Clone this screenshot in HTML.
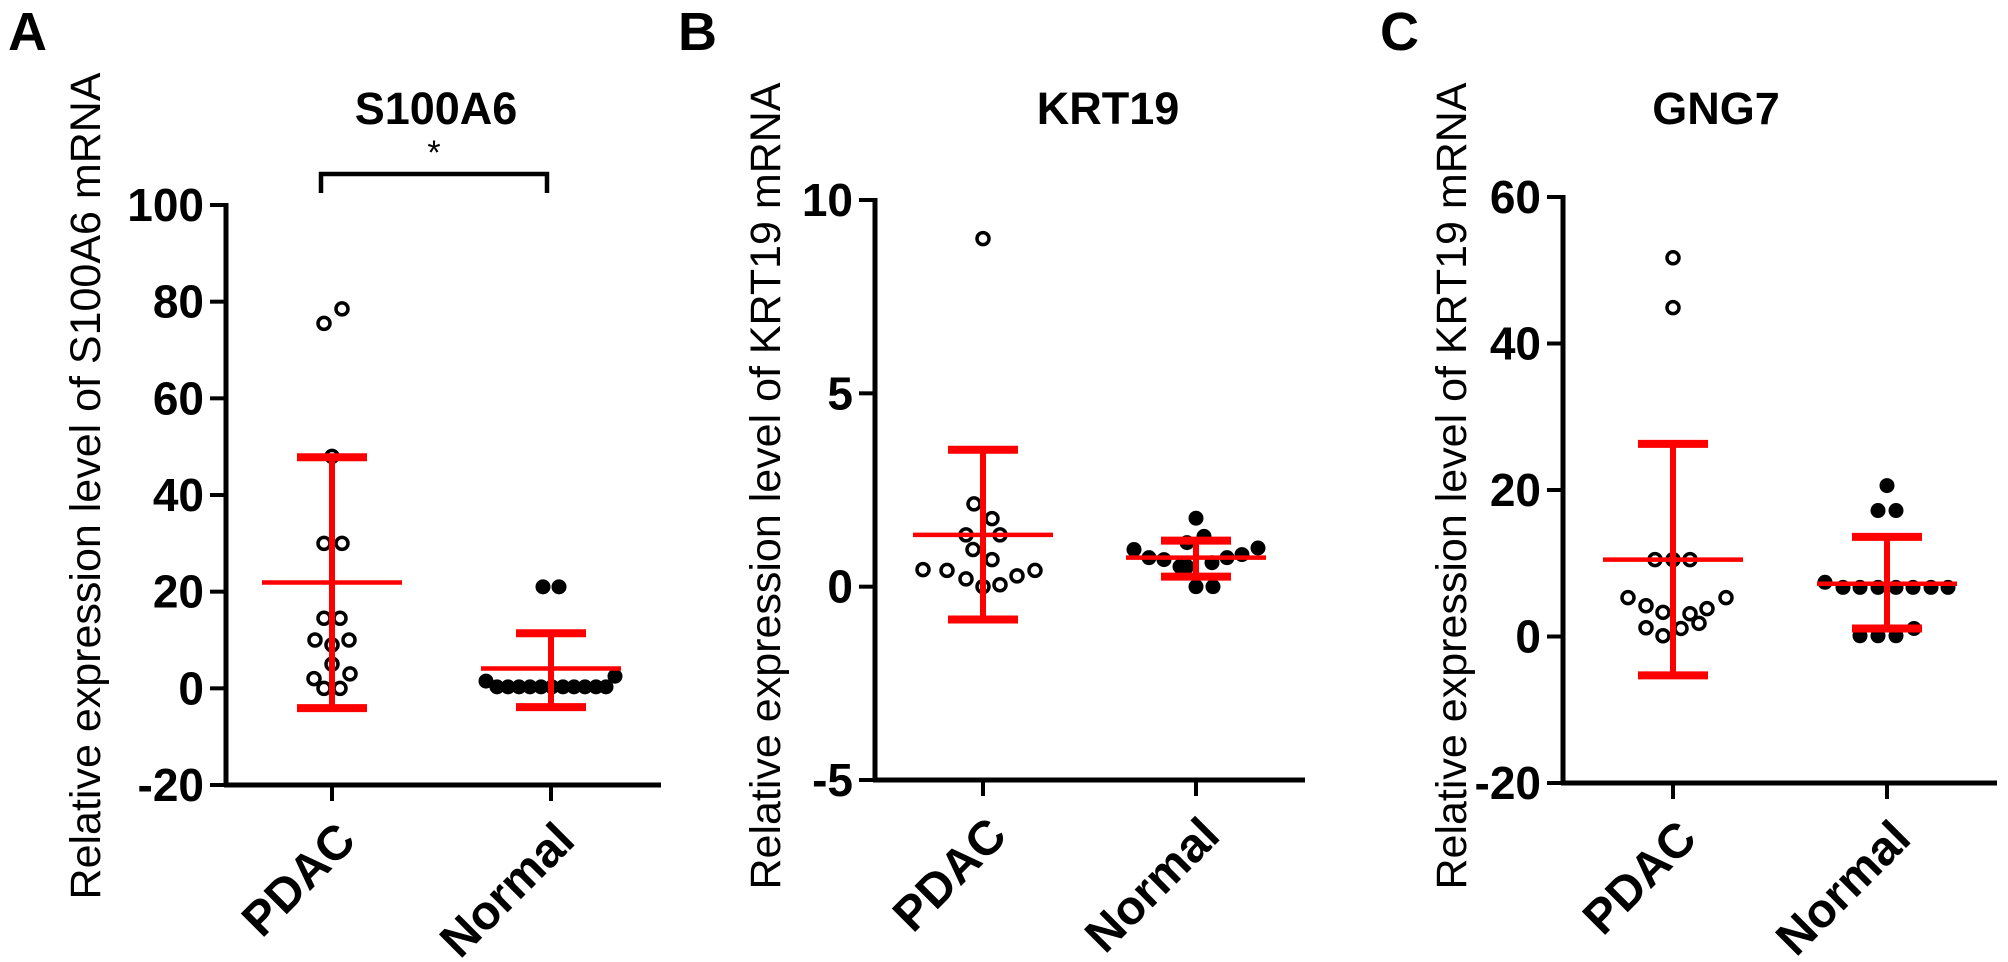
<!DOCTYPE html>
<html><head><meta charset="utf-8"><style>
html,body{margin:0;padding:0;background:#fff;}
svg{display:block;font-family:"Liberation Sans",Arial,sans-serif;}
</style></head><body>
<svg id="fig" width="2008" height="962" viewBox="0 0 2008 962" xmlns="http://www.w3.org/2000/svg"></svg>
<script>
const categories = ["PDAC", "Normal"];
// Panel A: S100A6
const aPdac = [78.5, 75.5, 48, 30, 30, 14.5, 14.5, 10, 10, 9, 5, 2, 3, 0, 0];
const aNormal = [21, 21, 1.5, 0.3, 0.3, 0.3, 0.3, 0.3, 0.3, 0.3, 0.3, 0.3, 0.3, 0.3, 2.5];
const aMean = [21.9, 4.1];
const aUpper = [47.8, 11.4];
const aLower = [-4.1, -3.9];
const aTicks = [-20, 0, 20, 40, 60, 80, 100];
// Panel B: KRT19
const bPdac = [9.0, 2.14, 1.76, 1.34, 1.34, 0.96, 0.7, 0.44, 0.42, 0.2, 0.0, 0.05, 0.28, 0.42];
const bNormal = [1.77, 1.3, 1.14, 0.96, 0.75, 0.7, 0.52, 0.52, 0.62, 0.75, 0.83, 1.0, 0.0, 0.0];
const bMean = [1.34, 0.75];
const bUpper = [3.54, 1.19];
const bLower = [-0.85, 0.26];
const bTicks = [-5, 0, 5, 10];
// Panel C: GNG7
const cPdac = [51.7, 44.9, 10.5, 10.5, 10.5, 5.3, 4.2, 3.3, 3.1, 3.8, 5.3, 1.2, 0.1, 1.1, 1.8];
const cNormal = [20.6, 17.2, 17.2, 7.4, 6.7, 6.7, 6.7, 6.7, 6.7, 6.7, 6.7, 0.1, 0.1, 0.1, 1.1];
const cMean = [10.5, 7.2];
const cUpper = [26.3, 13.6];
const cLower = [-5.3, 1.1];
const cTicks = [-20, 0, 20, 40, 60];

// horizontal jitter (layout only, px)
const jA0 = [10, -8, 0, -8, 10, -8, 8, -17, 17, 0, 0, -18, 18, -8, 8];
const jA1 = [-8, 8, -65, -54, -43, -32, -21, -10, 1, 12, 23, 34, 45, 55, 64];
const jB0 = [0, -9, 9, -17, 17, -10, 9, -60, -36, -17, 0, 17, 34, 52];
const jB1 = [0, 8, -9, -62, -47, -32, -16, -9, 16, 31, 46, 62, 0, 17];
const jC0 = [0, 0, -18, 0, 17, -45, -27, -10, 17, 34, 53, -27, -10, 8, 26];
const jC1 = [0, -9, 9, -62, -44, -27, -9, 9, 26, 44, 61, -27, -9, 9, 27];

const NS = "http://www.w3.org/2000/svg";
const svg = document.getElementById("fig");
function mk(tag, attrs, parent) {
  const e = document.createElementNS(NS, tag);
  for (const k in attrs) e.setAttribute(k, attrs[k]);
  (parent || svg).appendChild(e);
  return e;
}

function panel(p) {
  const g = mk("g", {});
  
  
  const y = v => p.y0 - (v - p.vmin) * (p.y0 - p.y1) / (p.vmax - p.vmin);
  const xs = [p.xPdac, p.xNormal];
  const ya = mk("line", {x1: p.ax, x2: p.ax, y1: y(p.vmax) - 2, y2: p.y0 + 2, stroke: "#000", "stroke-width": 5}, g);
  
  
  const xa = mk("line", {x1: p.ax - 2, x2: p.axEnd, y1: p.y0, y2: p.y0, stroke: "#000", "stroke-width": 5}, g);
  
  
  p.ticks.forEach(t => {
    const tl = mk("line", {x1: p.ax - 16, x2: p.ax, y1: y(t), y2: y(t), stroke: "#000", "stroke-width": 4}, g);
    
    
    const tx = mk("text", {x: p.ax - 22, y: y(t) + 16, "text-anchor": "end", "font-size": 46, "font-weight": "bold"}, g);
    tx.textContent = String(t);
    
    
  });
  categories.forEach((c, i) => {
    const tl = mk("line", {x1: xs[i], x2: xs[i], y1: p.y0, y2: p.y0 + 16, stroke: "#000", "stroke-width": 4}, g);
    
    
    const ax = xs[i] + 26, ay = p.y0 + 58;
    const tx = mk("text", {x: ax, y: ay, "text-anchor": "end", "font-size": 48, "font-weight": "bold",
      transform: `rotate(-45 ${ax} ${ay})`}, g);
    tx.textContent = c;
    
    
  });
  const yt = mk("text", {x: p.titleX, y: p.titleY, "text-anchor": "middle", "font-size": 43,
    transform: `rotate(-90 ${p.titleX} ${p.titleY})`}, g);
  yt.textContent = p.ytitle;
  
  
  const ct = mk("text", {x: p.headX, y: 124, "text-anchor": "middle", "font-size": 45, "font-weight": "bold"}, g);
  ct.textContent = p.head;
  
  
  const lt = mk("text", {x: p.letterX, y: 50, "font-size": 54, "font-weight": "bold"}, g);
  lt.textContent = p.id;
  
  
  [p.d0, p.d1].forEach((arr, i) => {
    arr.forEach((v, k) => {
      const jit = (i === 0 ? p.j0 : p.j1)[k] || 0;
      const c = mk("circle", {cx: xs[i] + jit, cy: y(v), r: i === 0 ? 6 : 7,
        fill: i === 0 ? "#fff" : "#000", stroke: "#000", "stroke-width": i === 0 ? 3.5 : 1}, g);
      
      
    });
  });
  categories.forEach((c, i) => {
    const x = xs[i];
    const v = mk("line", {x1: x, x2: x, y1: y(p.up[i]), y2: y(p.lo[i]), stroke: "#f00", "stroke-width": 6}, g);
    
    
    [p.up[i], p.lo[i]].forEach(val => {
      const cap = mk("line", {x1: x - 35, x2: x + 35, y1: y(val), y2: y(val), stroke: "#f00", "stroke-width": 8}, g);
      
      
    });
    const m = mk("line", {x1: x - 70, x2: x + 70, y1: y(p.mean[i]), y2: y(p.mean[i]), stroke: "#f00", "stroke-width": 4.5}, g);
    
    
  });
  return g;
}

const gA = panel({id: "A", d0: aPdac, d1: aNormal, j0: jA0, j1: jA1, mean: aMean, up: aUpper, lo: aLower, ticks: aTicks,
  vmin: -20, vmax: 100, y0: 785, y1: 205, ax: 226, axEnd: 661, xPdac: 332, xNormal: 551,
  titleX: 100, titleY: 486, ytitle: "Relative expression level of S100A6 mRNA", head: "S100A6", headX: 436, letterX: 8});
panel({id: "B", d0: bPdac, d1: bNormal, j0: jB0, j1: jB1, mean: bMean, up: bUpper, lo: bLower, ticks: bTicks,
  vmin: -5, vmax: 10, y0: 780, y1: 200, ax: 875, axEnd: 1305, xPdac: 983, xNormal: 1196,
  titleX: 780, titleY: 486, ytitle: "Relative expression level of KRT19 mRNA", head: "KRT19", headX: 1108, letterX: 678});
panel({id: "C", d0: cPdac, d1: cNormal, j0: jC0, j1: jC1, mean: cMean, up: cUpper, lo: cLower, ticks: cTicks,
  vmin: -20, vmax: 60, y0: 783, y1: 197, ax: 1563, axEnd: 1997, xPdac: 1673, xNormal: 1887,
  titleX: 1466, titleY: 486, ytitle: "Relative expression level of KRT19 mRNA", head: "GNG7", headX: 1716, letterX: 1380});

const br = mk("path", {d: "M321 193 V174 H547 V193", fill: "none", stroke: "#000", "stroke-width": 4.5}, gA);


const st = mk("text", {x: 434, y: 164, "text-anchor": "middle", "font-size": 34}, gA);
st.textContent = "*";


</script>
</body></html>
